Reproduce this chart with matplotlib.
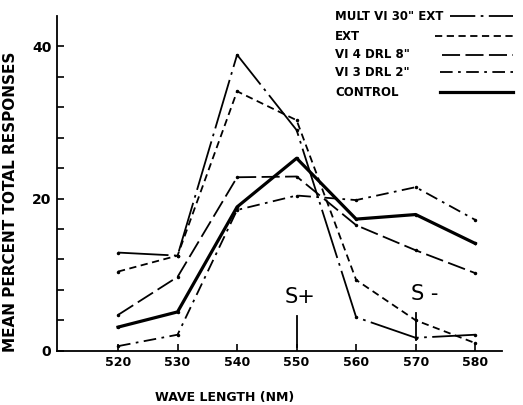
import matplotlib
matplotlib.use("Agg")
import matplotlib.pyplot as plt
from matplotlib.lines import Line2D

wavelength = [520, 530, 540, 550, 560, 570, 580]
mult_vi30_ext = [12.9, 12.5, 38.9, 29.0, 4.4, 1.7, 2.1]
ext = [10.4, 12.5, 34.1, 30.3, 9.3, 4.0, 1.0]
vi4_drl8 = [4.7, 9.7, 22.8, 22.9, 16.5, 13.2, 10.2]
vi3_drl2 = [0.6, 2.1, 18.5, 20.4, 19.8, 21.5, 17.2]
control = [3.1, 5.1, 18.9, 25.3, 17.3, 17.9, 14.1]

labels = ['MULT VI 30" EXT', 'EXT', 'VI 4 DRL 8"', 'VI 3 DRL 2"', 'CONTROL']
series = [mult_vi30_ext, ext, vi4_drl8, vi3_drl2, control]
styles = [(0, (28, 3, 1.5, 3)), (0, (4, 2.5)), (0, (10, 3)), (0, (7, 3, 1.5, 3)), "-"]
legend_styles = [(14, (28, 3, 1.5, 3))] + styles[1:]
widths = [1.3, 1.3, 1.3, 1.3, 2.3]

W, H = 523, 405
fig = plt.figure(figsize=(W / 100, H / 100), dpi=100)
ax = fig.add_axes([57 / W, 1 - 350.7 / H, (502 - 57) / W, (350.7 - 16) / H])

for vals, ls, lw in zip(series, styles, widths):
    ax.plot(wavelength, vals, color="k", linestyle=ls, linewidth=lw,
            marker=".", markersize=3)

ax.set_xlim(509.75, 584.5)
ax.set_ylim(0, 44)
ax.spines["top"].set_visible(False)
ax.spines["right"].set_visible(False)
ax.spines["left"].set_linewidth(1.3)
ax.spines["bottom"].set_linewidth(1.3)

ax.set_xticks(wavelength)
ax.set_xticklabels([str(w) for w in wavelength], fontweight="bold", fontsize=9)
ax.set_yticks(range(0, 44, 4))
ax.set_yticklabels([str(v) if v % 20 == 0 else "" for v in range(0, 44, 4)],
                   fontweight="bold", fontsize=10)
ax.tick_params(direction="in", length=5, width=1.2, pad=4)

# S+ / S- markers
ax.plot([550, 550], [0.5, 4.6], color="k", linewidth=1.3)
ax.plot([570, 570], [1.4, 5.0], color="k", linewidth=1.3)
ax.text(550.5, 7.0, "S+", fontsize=15, ha="center", va="center")
ax.text(571.5, 7.5, "S -", fontsize=15, ha="center", va="center")

# legend drawn by hand
legend_rows = [16, 36, 55, 72, 92]
line_starts = [450, 435, 442, 440, 440]
for lab, ls, lw, yp, xs in zip(labels, legend_styles, widths, legend_rows, line_starts):
    fig.text(335 / W, 1 - yp / H, lab, fontsize=8.5, fontweight="bold",
             ha="left", va="center")
    fig.add_artist(Line2D([xs / W, 513 / W], [1 - yp / H, 1 - yp / H],
                          color="k", linestyle=ls, linewidth=lw))

fig.text(225 / W, 1 - 398 / H, "WAVE LENGTH (NM)", fontsize=9,
         fontweight="bold", ha="center", va="center")
fig.text(11 / W, 1 - 202 / H, "MEAN PERCENT TOTAL RESPONSES", fontsize=11,
         fontweight="bold", ha="center", va="center", rotation=90)

fig.savefig("out.png", dpi=100)
